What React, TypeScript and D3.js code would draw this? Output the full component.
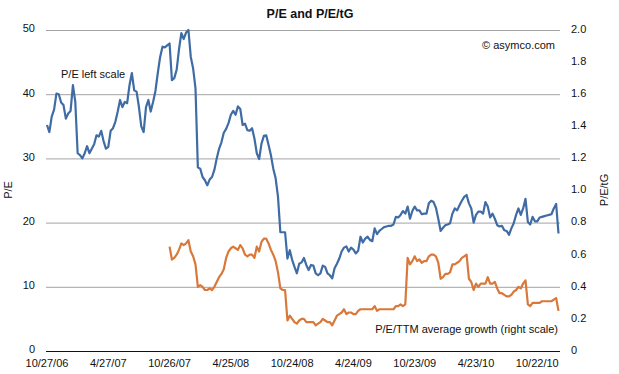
import React, { useEffect, useRef } from 'react';
import { line, scaleLinear, scaleUtc, select, utcDay, utcParse } from 'd3';

// weekly closing values, first week = 10/27/06
const startLabel = '10/27/06';
const tickLabels = ['10/27/06', '4/27/07', '10/26/07', '4/25/08', '10/24/08', '4/24/09', '10/23/09', '4/23/10', '10/22/10'];

// P/E (left scale)
const peValues = [
	35.2, 34.1, 36.5, 37.6, 40.1, 40.0, 38.7, 38.3, 36.2, 37.0,
	37.4, 41.4, 38.8, 30.8, 30.5, 30.0, 30.8, 31.9, 30.8, 31.5,
	32.2, 33.6, 33.4, 34.3, 32.7, 31.5, 31.8, 34.3, 34.7, 35.7,
	37.3, 39.1, 38.0, 38.8, 38.6, 41.4, 43.3, 40.6, 40.4, 38.0,
	35.0, 34.1, 38.0, 39.1, 37.3, 38.8, 40.5, 43.3, 45.8, 47.4,
	47.3, 47.6, 47.9, 42.2, 42.5, 43.8, 47.0, 49.5, 48.6, 49.6,
	50.0, 45.8, 44.0, 40.9, 28.6, 28.4, 27.1, 26.6, 25.8, 26.7,
	27.1, 28.2, 30.0, 31.5, 32.5, 34.0, 34.6, 35.5, 36.8, 37.4,
	36.8, 38.1, 37.7, 35.2, 35.4, 34.4, 34.3, 34.7, 33.1, 30.8,
	29.9, 32.3, 33.5, 33.6, 32.1, 30.5, 28.4, 26.9, 24.0, 18.5,
	18.5, 18.5, 14.4, 15.7, 14.2, 13.1, 12.1, 13.6, 13.8, 14.5,
	13.4, 12.6, 13.4, 13.3, 12.1, 11.8, 12.1, 13.3, 13.1, 12.1,
	11.8, 11.3, 12.9, 13.6, 14.4, 15.5, 16.1, 16.3, 15.5, 16.1,
	15.8, 15.2, 15.6, 17.8, 16.9, 17.5, 17.8, 17.3, 17.1, 19.1,
	18.2, 18.7, 19.0, 19.3, 19.4, 19.5, 19.5, 19.7, 20.9, 20.8,
	21.2, 21.8, 21.4, 22.5, 20.6, 21.8, 22.5, 21.9, 21.9, 21.3,
	21.4, 21.4, 23.0, 23.4, 23.2, 22.3, 20.6, 18.7, 19.2, 19.6,
	19.7, 19.9, 21.4, 22.2, 21.9, 22.7, 23.4, 24.0, 24.3, 23.0,
	22.2, 20.0, 21.2, 21.7, 21.7, 21.4, 23.2, 22.5, 20.8, 21.4,
	20.6, 19.6, 19.4, 19.5, 18.8, 18.7, 18.1, 19.1, 19.9, 21.2,
	22.2, 21.2, 22.2, 23.7, 20.1, 19.7, 20.9, 20.2, 20.2, 20.8,
	20.9, 21.0, 21.1, 21.2, 21.3, 22.2, 22.9, 18.3
];

// P/E/TTM average growth (right scale), starts at week 52
const petgStartWeek = 52;
const petgValues = [
	0.65, 0.57, 0.58, 0.60, 0.63, 0.67, 0.66, 0.67, 0.69, 0.62,
	0.59, 0.54, 0.40, 0.41, 0.40, 0.38, 0.38, 0.39, 0.38, 0.40,
	0.43, 0.46, 0.48, 0.51, 0.58, 0.62, 0.64, 0.65, 0.64, 0.63,
	0.66, 0.64, 0.60, 0.59, 0.60, 0.60, 0.58, 0.65, 0.62, 0.68,
	0.70, 0.70, 0.67, 0.63, 0.60, 0.56, 0.49, 0.39, 0.38, 0.38,
	0.19, 0.22, 0.20, 0.18, 0.17, 0.19, 0.20, 0.20, 0.18, 0.18,
	0.18, 0.18, 0.16, 0.17, 0.18, 0.20, 0.19, 0.18, 0.18, 0.16,
	0.19, 0.22, 0.23, 0.24, 0.26, 0.23, 0.24, 0.24, 0.23, 0.23,
	0.25, 0.26, 0.26, 0.26, 0.26, 0.26, 0.26, 0.28, 0.25, 0.26,
	0.26, 0.26, 0.26, 0.26, 0.26, 0.26, 0.28, 0.28, 0.29, 0.28,
	0.29, 0.58, 0.54, 0.56, 0.59, 0.56, 0.57, 0.55, 0.56, 0.56,
	0.59, 0.60, 0.60, 0.59, 0.55, 0.45, 0.46, 0.48, 0.48, 0.49,
	0.54, 0.54, 0.55, 0.56, 0.58, 0.59, 0.60, 0.45, 0.43, 0.38,
	0.42, 0.40, 0.42, 0.42, 0.42, 0.46, 0.42, 0.42, 0.43, 0.39,
	0.36, 0.36, 0.35, 0.34, 0.34, 0.35, 0.37, 0.38, 0.40, 0.39,
	0.42, 0.44, 0.29, 0.28, 0.30, 0.30, 0.30, 0.30, 0.31, 0.31,
	0.31, 0.31, 0.31, 0.32, 0.33, 0.25
];

const leftTicks = [0, 10, 20, 30, 40, 50];
const rightTicks = [0, 0.2, 0.4, 0.6, 0.8, 1.0, 1.2, 1.4, 1.6, 1.8, 2.0];

const W = 619;
const H = 374;
const font = '"Liberation Sans", Arial, sans-serif';
const fs = 11;

export default function App() {
	const ref = useRef<SVGSVGElement>(null);

	useEffect(() => {
		const parse = utcParse('%m/%d/%y');
		const start = parse(startLabel) as Date;
		const weekDate = (i: number) => utcDay.offset(start, i * 7);

		const pe = peValues.map((v, i) => ({ date: weekDate(i), v }));
		const petg = petgValues.map((v, i) => ({ date: weekDate(petgStartWeek + i), v }));

		const x = scaleUtc()
			.domain([pe[0].date, pe[pe.length - 1].date])
			.range([47, 558.5]);
		const yL = scaleLinear().domain([0, 50]).range([351, 30]);
		const yR = scaleLinear().domain([0, 2]).range([351, 30]);

		const svg = select(ref.current);
		svg.selectAll('*').remove();

		// title
		svg.append('text')
			.attr('x', 310).attr('y', 18)
			.attr('text-anchor', 'middle')
			.attr('font-size', 12.5).attr('font-weight', 'bold')
			.text('P/E and P/E/tG');

		// grid
		const grid = svg.append('g');
		grid.selectAll('line')
			.data(leftTicks.filter(d => d > 0))
			.join('line')
			.attr('x1', 46).attr('x2', 560)
			.attr('y1', d => yL(d) + 0.5).attr('y2', d => yL(d) + 0.5)
			.attr('stroke', '#a3a3a3').attr('stroke-width', 1);
		grid.append('line')
			.attr('x1', 46).attr('x2', 560)
			.attr('y1', yL(0) + 0.5).attr('y2', yL(0) + 0.5)
			.attr('stroke', '#111').attr('stroke-width', 1);

		// left axis labels
		svg.append('g').selectAll('text')
			.data(leftTicks)
			.join('text')
			.attr('x', 35).attr('y', d => yL(d) - 1.5)
			.attr('dy', '0.35em')
			.attr('text-anchor', 'end')
			.attr('font-size', fs)
			.text(d => d);

		// right axis labels
		svg.append('g').selectAll('text')
			.data(rightTicks)
			.join('text')
			.attr('x', 571).attr('y', d => yR(d) - 1)
			.attr('dy', '0.35em')
			.attr('font-size', fs)
			.text(d => (d === 0 ? '0' : d.toFixed(1)));

		// x labels
		svg.append('g').selectAll('text')
			.data(tickLabels)
			.join('text')
			.attr('x', d => x(parse(d) as Date))
			.attr('y', 363)
			.attr('dy', '0.35em')
			.attr('text-anchor', 'middle')
			.attr('font-size', fs)
			.text(d => d);

		// axis titles
		svg.append('text')
			.attr('transform', 'translate(12,190) rotate(-90)')
			.attr('text-anchor', 'middle')
			.attr('font-size', fs)
			.text('P/E');
		svg.append('text')
			.attr('transform', 'translate(608,190) rotate(-90)')
			.attr('text-anchor', 'middle')
			.attr('font-size', fs)
			.text('P/E/tG');

		// lines
		svg.append('path')
			.attr('d', line<{ date: Date; v: number }>().x(d => x(d.date)).y(d => yR(d.v))(petg))
			.attr('fill', 'none')
			.attr('stroke', '#d8783a')
			.attr('stroke-width', 2.2)
			.attr('stroke-linejoin', 'round');
		svg.append('path')
			.attr('d', line<{ date: Date; v: number }>().x(d => x(d.date)).y(d => yL(d.v))(pe))
			.attr('fill', 'none')
			.attr('stroke', '#3f6ca5')
			.attr('stroke-width', 2.2)
			.attr('stroke-linejoin', 'round');

		// annotations
		svg.append('text')
			.attr('x', 61).attr('y', 78)
			.attr('font-size', fs)
			.text('P/E left scale');
		svg.append('text')
			.attr('x', 555).attr('y', 49)
			.attr('text-anchor', 'end')
			.attr('font-size', fs)
			.text('© asymco.com');
		svg.append('text')
			.attr('x', 558).attr('y', 333)
			.attr('text-anchor', 'end')
			.attr('font-size', fs)
			.text('P/E/TTM average growth (right scale)');
	}, []);

	return (
		<svg
			ref={ref}
			width={W}
			height={H}
			style={{ position: 'absolute', left: 0, top: 0, background: '#fff', fontFamily: font }}
			fill="#111"
		/>
	);
}
